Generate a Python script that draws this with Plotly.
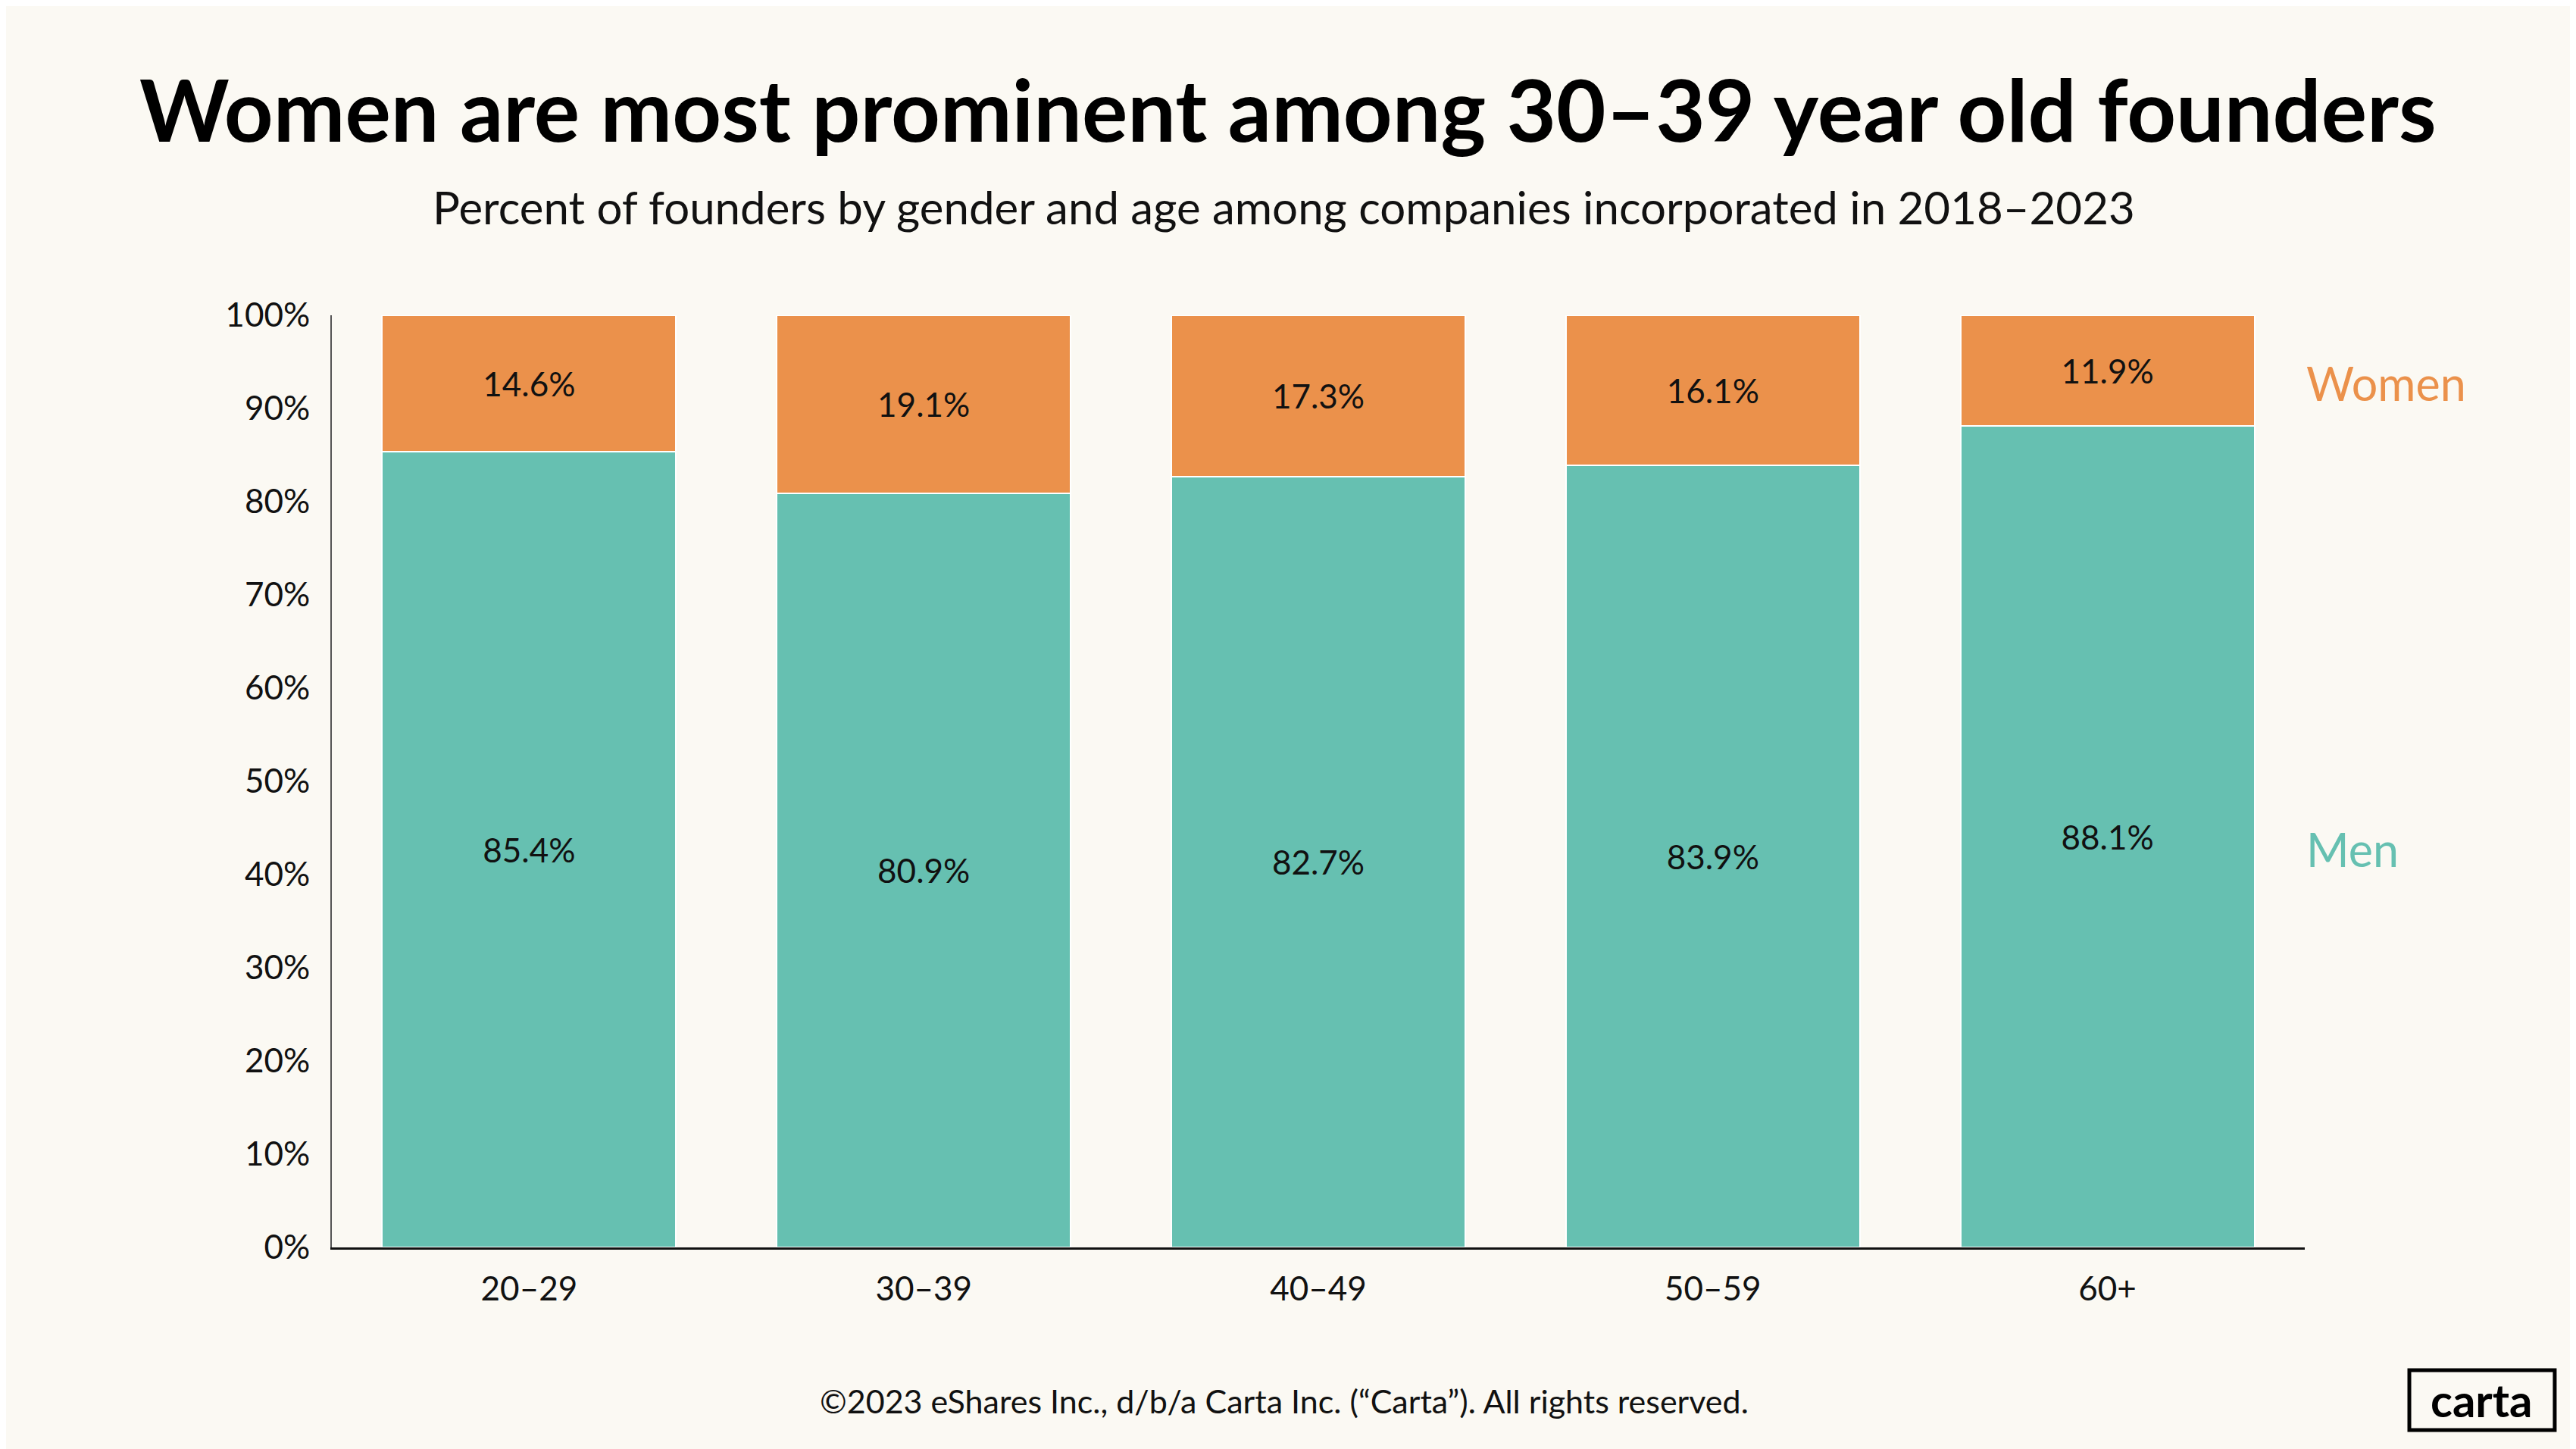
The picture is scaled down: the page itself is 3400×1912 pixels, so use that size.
import plotly.graph_objects as go

# data
age_groups = ["20–29", "30–39", "40–49", "50–59", "60+"]
men = [85.4, 80.9, 82.7, 83.9, 88.1]
women = [14.6, 19.1, 17.3, 16.1, 11.9]

bg = "#FBF9F3"
teal = "#66C0B1"
orange = "#EB914B"
font_name = "Lato"

fig = go.Figure()
fig.add_trace(go.Bar(
    x=age_groups, y=men, name="Men",
    marker=dict(color=teal, line=dict(color="white", width=2)),
    text=[f"{v}%" for v in men], textposition="inside",
    insidetextanchor="middle",
    textfont=dict(size=44, color="#111", family=font_name),
))
fig.add_trace(go.Bar(
    x=age_groups, y=women, name="Women",
    marker=dict(color=orange, line=dict(color="white", width=2)),
    text=[f"{v}%" for v in women], textposition="inside",
    insidetextanchor="middle",
    textfont=dict(size=44, color="#111", family=font_name),
))

# series labels to the right of the bars, level with the first column's segments
fig.add_annotation(x=1, xref="paper", y=men[0] / 2, yref="y", text="Men",
                   showarrow=False, xanchor="left", yanchor="middle",
                   font=dict(size=61, color=teal, family=font_name))
fig.add_annotation(x=1, xref="paper", y=men[0] + women[0] / 2, yref="y", text="Women",
                   showarrow=False, xanchor="left", yanchor="middle",
                   font=dict(size=61, color=orange, family=font_name))

# subtitle and footer
fig.add_annotation(x=0.4827, xref="paper", y=1.116, yref="paper",
                   xanchor="center", yanchor="middle",
                   text="Percent of founders by gender and age among companies incorporated in 2018–2023",
                   showarrow=False, font=dict(size=60, color="#111", family=font_name))
fig.add_annotation(x=0.4827, xref="paper", y=-0.165, yref="paper",
                   xanchor="center", yanchor="middle",
                   text="©2023 eShares Inc., d/b/a Carta Inc. (“Carta”). All rights reserved.",
                   showarrow=False, font=dict(size=43, color="#111", family=font_name))

# carta logo box
fig.add_shape(type="rect", xref="paper", yref="paper",
              x0=1.053, x1=1.1267, y0=-0.196, y1=-0.1317,
              line=dict(color="black", width=5), fillcolor=bg)
fig.add_annotation(x=1.0898, xref="paper", y=-0.1635, yref="paper",
                   xanchor="center", yanchor="middle",
                   text="<b>carta</b>", showarrow=False,
                   font=dict(size=60, color="black", family=font_name))

fig.update_layout(
    barmode="stack",
    bargap=0.255,
    width=3400, height=1912,
    margin=dict(l=430, r=366, t=408, b=274),
    paper_bgcolor=bg, plot_bgcolor=bg,
    showlegend=False,
    title=dict(text="<b>Women are most prominent among 30–39 year old founders</b>",
               x=0.4976, xanchor="center", y=0.927, yanchor="middle",
               font=dict(size=113, color="#000", family=font_name)),
    font=dict(family=font_name, color="#111"),
)
fig.update_xaxes(showline=True, linecolor="#111", linewidth=3,
                 tickfont=dict(size=44, color="#111"), ticks="",
                 ticklabelstandoff=14, showgrid=False)
fig.update_yaxes(range=[0, 100], dtick=10, ticksuffix="%",
                 showline=True, linecolor="#555", linewidth=2,
                 tickfont=dict(size=44, color="#111"), ticks="",
                 ticklabelstandoff=18, showgrid=False, zeroline=False)

fig.write_html("out.html")
